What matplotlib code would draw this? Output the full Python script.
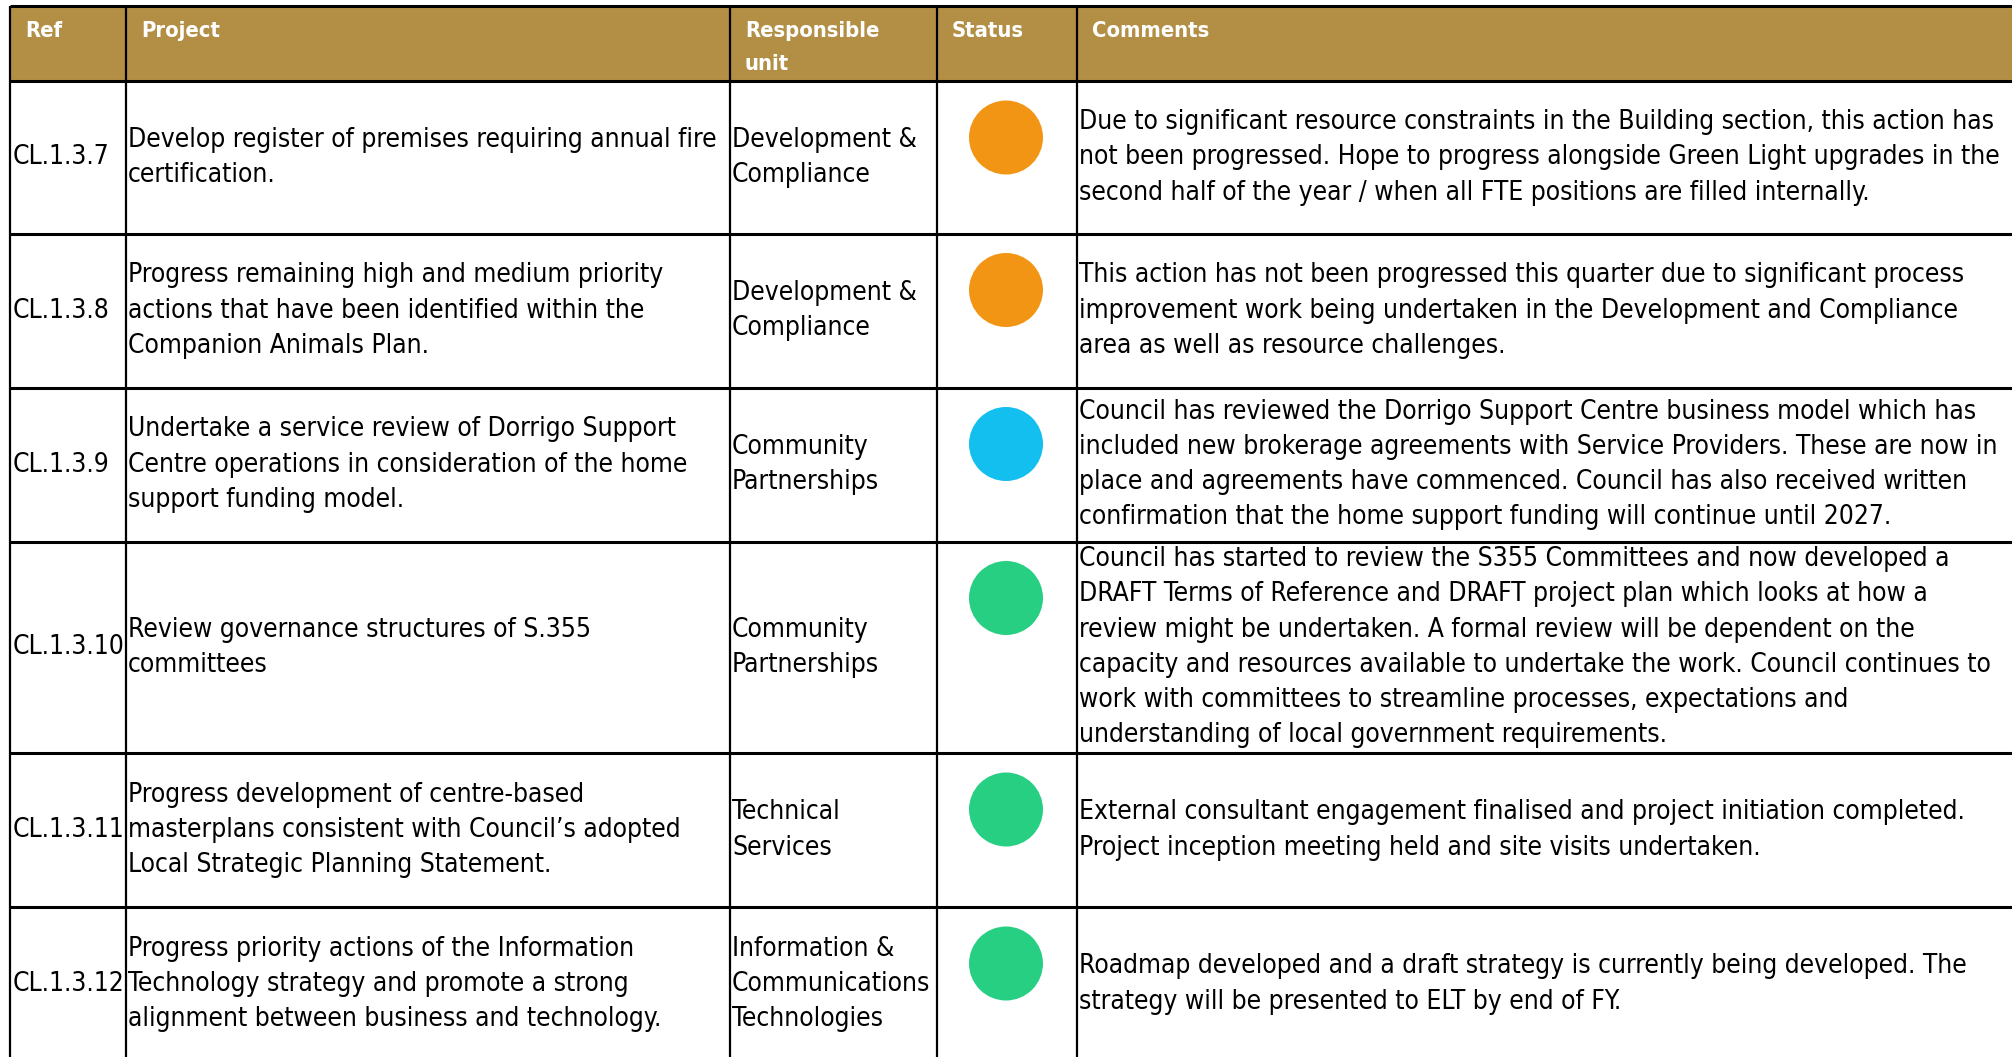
import matplotlib.pyplot as plt
from matplotlib import font_manager
from matplotlib.patches import Rectangle, Circle

refs = ['CL.1.3.7', 'CL.1.3.8', 'CL.1.3.9', 'CL.1.3.10', 'CL.1.3.11', 'CL.1.3.12']
projects = [
    ['Develop register of premises requiring annual fire', 'certification.'],
    ['Progress remaining high and medium priority', 'actions that have been identified within the',
     'Companion Animals Plan.'],
    ['Undertake a service review of Dorrigo Support', 'Centre operations in consideration of the home',
     'support funding model.'],
    ['Review governance structures of S.355', 'committees'],
    ['Progress development of centre-based', 'masterplans consistent with Council\u2019s adopted',
     'Local Strategic Planning Statement.'],
    ['Progress priority actions of the Information', 'Technology strategy and promote a strong',
     'alignment between business and technology.'],
]
units = [
    ['Development &', 'Compliance'],
    ['Development &', 'Compliance'],
    ['Community', 'Partnerships'],
    ['Community', 'Partnerships'],
    ['Technical', 'Services'],
    ['Information &', 'Communications', 'Technologies'],
]
status = ['amber', 'amber', 'blue', 'green', 'green', 'green']
comments = [
    ['Due to significant resource constraints in the Building section, this action has',
     'not been progressed. Hope to progress alongside Green Light upgrades in the',
     'second half of the year / when all FTE positions are filled internally.'],
    ['This action has not been progressed this quarter due to significant process',
     'improvement work being undertaken in the Development and Compliance',
     'area as well as resource challenges.'],
    ['Council has reviewed the Dorrigo Support Centre business model which has',
     'included new brokerage agreements with Service Providers. These are now in',
     'place and agreements have commenced. Council has also received written',
     'confirmation that the home support funding will continue until 2027.'],
    ['Council has started to review the S355 Committees and now developed a',
     'DRAFT Terms of Reference and DRAFT project plan which looks at how a',
     'review might be undertaken. A formal review will be dependent on the',
     'capacity and resources available to undertake the work. Council continues to',
     'work with committees to streamline processes, expectations and',
     'understanding of local government requirements.'],
    ['External consultant engagement finalised and project initiation completed.',
     'Project inception meeting held and site visits undertaken.'],
    ['Roadmap developed and a draft strategy is currently being developed. The',
     'strategy will be presented to ELT by end of FY.'],
]
headers = ['Ref', 'Project', ['Responsible', 'unit'], 'Status', 'Comments']

status_colors = {'amber': '#F39514', 'blue': '#12BFEF', 'green': '#27CF83'}
gold = '#B38F46'

# pick the narrowest face we have (reference uses Calibri)
have = {(f.name, f.stretch) for f in font_manager.fontManager.ttflist}
font = dict(family=['Lato', 'DejaVu Sans'])
if ('Liberation Sans Narrow', 'condensed') in have or any(n == 'Liberation Sans Narrow' for n, s in have):
    font = dict(family=['Liberation Sans Narrow', 'DejaVu Sans'])
elif any(n == 'DejaVu Sans' and s in ('condensed', 'semi-condensed', 600, 700) for n, s in have):
    font = dict(family=['DejaVu Sans'], stretch='condensed')

# layout in pixels
W, H = 2012, 1057
col_x = [10, 126, 730, 937, 1077, 2030]
row_y = [6, 81, 233.5, 387.5, 541.5, 753, 907, 1061]
line_h = 35.3

fig = plt.figure(figsize=(W / 100, H / 100), dpi=100)
ax = fig.add_axes([0, 0, 1, 1])
ax.set_xlim(0, W)
ax.set_ylim(H, 0)
ax.axis('off')
renderer = fig.canvas.get_renderer()


def fit_size(samples, weight='normal'):
    # samples: (string, width in px as seen in the reference)
    ratios = []
    for s, w in samples:
        t = ax.text(0, 0, s, fontsize=20, fontweight=weight, **font)
        ratios.append(w / t.get_window_extent(renderer).width)
        t.remove()
    return 20 * sum(ratios) / len(ratios)


fs = fit_size([('Develop register of premises requiring annual fire', 592),
               ('Due to significant resource constraints in the Building section, this action has', 909),
               ('Communications', 200)])
hfs = fit_size([('Responsible', 133), ('Comments', 119)], 'bold')

# header band
ax.add_patch(Rectangle((col_x[0], row_y[0]), col_x[-1] - col_x[0], row_y[1] - row_y[0],
                       facecolor=gold, edgecolor='none'))
for i, h in enumerate(headers):
    lines = h if isinstance(h, list) else [h]
    for k, t in enumerate(lines):
        ax.text(col_x[i] + 15, 31 + k * 33, t, fontsize=hfs, fontweight='bold',
                color='white', va='center', ha='left', **font)


def cell_text(x, top, bottom, lines):
    mid = (top + bottom) / 2
    n = len(lines)
    for k, t in enumerate(lines):
        ax.text(x, mid + (k - (n - 1) / 2) * line_h, t, fontsize=fs, color='black',
                va='center', ha='left', **font)


for r in range(len(refs)):
    top, bot = row_y[r + 1], row_y[r + 2]
    cell_text(col_x[0] + 3, top, bot, [refs[r]])
    cell_text(col_x[1] + 2, top, bot, projects[r])
    cell_text(col_x[2] + 2, top, bot, units[r])
    cell_text(col_x[4] + 2, top, bot, comments[r])
    cx = (col_x[3] + col_x[4]) / 2 - 1
    ax.add_patch(Circle((cx, top + 56.5), 37, facecolor=status_colors[status[r]], edgecolor='none'))

# grid lines
for y in row_y:
    ax.plot([col_x[0], col_x[-1]], [y, y], color='black', lw=2.2, solid_capstyle='butt')
for x in col_x[:-1]:
    ax.plot([x, x], [row_y[0], row_y[-1]], color='black', lw=1.6, solid_capstyle='butt')

fig.savefig('out.png', dpi=100)
